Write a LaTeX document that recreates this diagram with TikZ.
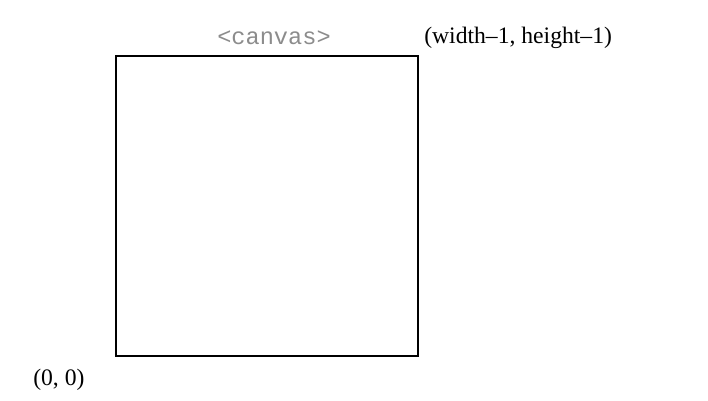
\documentclass[tikz,border=0pt]{standalone}
\usepackage{fontspec}
\setmainfont{Liberation Serif}
\setmonofont{Liberation Mono}
\usetikzlibrary{positioning}

\begin{document}
\begin{tikzpicture}[x=0.025cm,y=-0.025cm,font=\fontsize{16.8}{20}\selectfont]
  \useasboundingbox (0,0) rectangle (708,400);
  \node[draw,line width=1.4pt,minimum width=302*0.025cm,minimum height=300*0.025cm,inner sep=0pt] (box) at (267,206) {};
  \node[font=\fontsize{16.8}{20}\ttfamily,text=black!45] (name) at (274,38) {<canvas>};
  \node[anchor=west,inner sep=0pt] (max) at (424,38) {(width–1, height–1)};
  \node[anchor=west,inner sep=0pt] (origin) at (33,380) {(0, 0)};
\end{tikzpicture}
\end{document}
